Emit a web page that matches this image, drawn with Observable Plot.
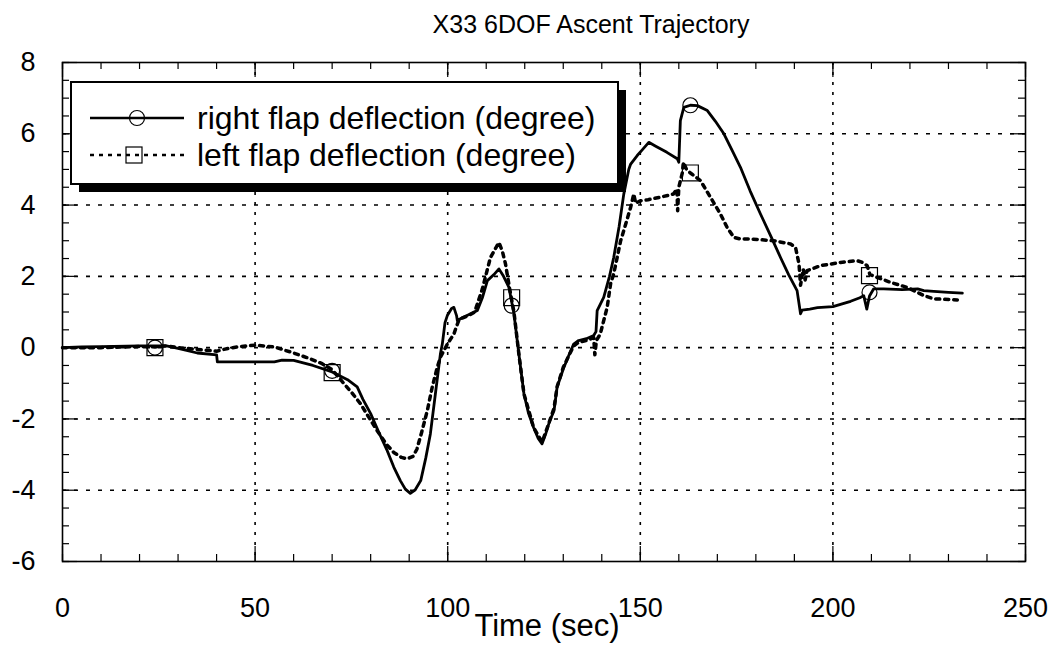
<!DOCTYPE html>
<html>
<head>
<meta charset="utf-8">
<script src="https://cdn.jsdelivr.net/npm/d3@7"></script>
<script src="https://cdn.jsdelivr.net/npm/@observablehq/plot@0.6"></script>
<style>
  html, body { margin: 0; padding: 0; background: #fff; }
  #wrap { position: relative; width: 1058px; height: 648px; overflow: hidden; font-family: "Liberation Sans", Arial, Helvetica, sans-serif; }
  #title { position: absolute; left: 0; top: 0; width: 1182px; height: 40px; text-align: center; line-height: 48px;
           font-family: "Liberation Sans", Arial, sans-serif; font-size: 25px; color: #000; white-space: nowrap; }
  #chart { position: absolute; left: 0; top: 40px; }
  #legend { position: absolute; left: 0; top: 0; }
</style>
</head>
<body>
<div id="wrap">
  <div id="chart"></div>
  <div id="title">X33 6DOF Ascent Trajectory</div>
  <svg id="legend" width="1058" height="648"></svg>
</div>
<script>
// ---- data (time in sec, deflection in degree) ----
const rightTime = [0,5,10,20,24,27,30,35,40,40.2,45,50,55,57,60,65,70,74,76.5,78,80,82,84.3,86,87.7,89,90.3,91.5,93,94.3,95.5,96.8,98.1,98.6,99.3,99.9,101,101.6,102.3,102.5,104,106,107.7,109,110.3,112,113.3,114.5,115.9,117.2,118.5,119.8,121,122.3,123.5,124.5,125.5,126.5,127.6,128.4,130,131.5,132.7,134,136,137.9,138.5,138.8,140.5,142,143.1,144.5,145.7,147,147.5,149.2,150.5,152.2,154,156.9,159.6,160,160.4,161.3,163,164.8,167.4,169.5,171.7,174,176,178.5,181.2,184,186.4,188.5,190.7,191.6,192,194,196,200,204.6,207,208,208.8,209.5,210.6,213.2,218,222,223.6,226.2,230,233.6];
const rightDefl = [0,0.02,0.03,0.05,0.05,0.05,-0.02,-0.15,-0.2,-0.4,-0.4,-0.4,-0.4,-0.35,-0.36,-0.5,-0.68,-0.9,-1.1,-1.45,-1.85,-2.35,-2.89,-3.35,-3.73,-3.97,-4.09,-4.0,-3.73,-3.1,-2.42,-1.3,-0.18,0.1,0.7,0.9,1.1,1.13,0.9,0.76,0.85,0.95,1.04,1.4,1.88,2.05,2.21,2.0,1.69,0.95,-0.2,-1.3,-1.85,-2.24,-2.55,-2.7,-2.4,-2.05,-1.77,-1.11,-0.6,-0.2,0.1,0.2,0.25,0.34,0.45,1.04,1.41,2.0,2.53,3.4,4.3,5.0,5.15,5.39,5.55,5.76,5.65,5.48,5.3,5.2,6.37,6.74,6.8,6.79,6.65,6.35,6.0,5.5,5.06,4.4,3.75,3.1,2.53,2.05,1.6,0.95,1.05,1.08,1.12,1.15,1.3,1.4,1.46,1.08,1.45,1.65,1.65,1.63,1.65,1.6,1.58,1.55,1.53];

const leftTime = [0,5,10,20,24,27,30,35,40,43,46,50,55,60,64,67.4,70,73,75,77.4,79.5,81.7,84,86,88,89.5,91,92,93.3,94.7,96,97.3,98.1,99.9,101.6,102.3,103,105,107,109,111.1,112.5,113.3,114.2,115,116,117.2,118.5,119.8,122.3,124.5,126,127.6,128.4,130,132.7,134,136,137.9,138.2,138.6,139.6,141.4,142.3,143.1,144.9,145.7,147.5,148.3,148.8,150,152,155.2,158.6,159.5,159.7,160,160.9,161.2,162,163,165.6,168.2,170.8,172.5,174.3,176,178.6,184.6,189,190.3,191.2,191.6,192.3,192.8,193.3,196.8,202,206.3,207.5,208.9,209.6,212,215,219.3,221,223.6,226.2,232.3];
const leftDefl = [0,0,0,0.03,0.02,0.05,0,-0.05,-0.1,-0.02,0.03,0.07,0.02,-0.15,-0.3,-0.45,-0.62,-1.0,-1.25,-1.58,-1.95,-2.33,-2.7,-2.94,-3.08,-3.12,-3.05,-2.85,-2.35,-1.77,-1.1,-0.55,-0.27,0.1,0.38,0.6,0.8,0.88,1.0,1.65,2.53,2.8,2.95,2.7,2.35,1.7,1.0,-0.2,-1.3,-2.24,-2.65,-2.2,-1.7,-1.1,-0.55,0.05,0.15,0.2,0.28,-0.2,0.2,0.38,1.13,1.8,2.07,3.0,3.28,3.94,4.31,4.05,4.12,4.15,4.22,4.31,4.45,3.84,4.5,4.9,5.2,5.0,4.9,4.69,4.22,3.75,3.38,3.09,3.05,3.05,3.0,2.91,2.81,2.35,1.75,2.2,1.9,2.16,2.3,2.39,2.44,2.4,2.3,2.05,1.95,1.83,1.69,1.6,1.46,1.37,1.34];

const markerTime = [24, 70, 116.6, 163, 209.5];
const rightMarkerDefl = [0, -0.65, 1.18, 6.8, 1.55];
const leftMarkerDefl = [0, -0.7, 1.4, 4.9, 2.02];

const xTicks = [0, 50, 100, 150, 200, 250];
const yTicks = [-6, -4, -2, 0, 2, 4, 6, 8];
const xMinor = d3.range(0, 251, 10);
const yMinor = d3.range(-6, 8.01, 0.5);

const seriesLabels = ["right flap deflection (degree)", "left flap deflection (degree)"];
const xLabel = "Time (sec)";

// ---- build tables ----
const right = rightTime.map((t, i) => ({t, v: rightDefl[i]}));
const left = leftTime.map((t, i) => ({t, v: leftDefl[i]}));
const rightMk = markerTime.map((t, i) => ({t, v: rightMarkerDefl[i]}));
const leftMk = markerTime.map((t, i) => ({t, v: leftMarkerDefl[i]}));

const W = 1058, H = 608, mT = 22, mB = 87, mL = 62, mR = 33;
const innerH = H - mT - mB, innerW = W - mL - mR;
const minorLen = 7, majorLen = 15;

const chart = Plot.plot({
  width: W, height: H,
  marginTop: mT, marginBottom: mB, marginLeft: mL, marginRight: mR,
  style: {fontFamily: '"Liberation Sans", Arial, sans-serif', background: "white", color: "black"},
  x: {domain: [0, 250]},
  y: {domain: [-6, 8]},
  marks: [
    Plot.gridX(xTicks.filter(d => d > 0 && d < 250), {stroke: "black", strokeOpacity: 1, strokeWidth: 1.6, strokeDasharray: "3,7"}),
    Plot.gridY(yTicks.filter(d => d > -6 && d < 8), {stroke: "black", strokeOpacity: 1, strokeWidth: 1.6, strokeDasharray: "4,8"}),
    // inward minor/major ticks
    Plot.tickX(xMinor, {x: d => d, stroke: "black", strokeWidth: 1.2, insetTop: innerH - minorLen}),
    Plot.tickX(xMinor, {x: d => d, stroke: "black", strokeWidth: 1.2, insetBottom: innerH - minorLen}),
    Plot.tickX(xTicks, {x: d => d, stroke: "black", strokeWidth: 1.2, insetTop: innerH - majorLen}),
    Plot.tickX(xTicks, {x: d => d, stroke: "black", strokeWidth: 1.2, insetBottom: innerH - majorLen}),
    Plot.tickY(yMinor, {y: d => d, stroke: "black", strokeWidth: 1.2, insetRight: innerW - minorLen}),
    Plot.tickY(yMinor, {y: d => d, stroke: "black", strokeWidth: 1.2, insetLeft: innerW - minorLen}),
    Plot.tickY(yTicks, {y: d => d, stroke: "black", strokeWidth: 1.2, insetRight: innerW - majorLen}),
    Plot.tickY(yTicks, {y: d => d, stroke: "black", strokeWidth: 1.2, insetLeft: innerW - majorLen}),
    Plot.frame({stroke: "black", strokeWidth: 1.6}),
    Plot.axisX({ticks: xTicks, tickSize: 0, tickPadding: 36, fontSize: 27, tickFormat: d => String(d), label: null}),
    Plot.axisY({ticks: yTicks, tickSize: 0, tickPadding: 27, fontSize: 27, tickFormat: d => String(d), label: null}),
    Plot.text([xLabel], {text: d => d, frameAnchor: "bottom", dy: 65, dx: 3, fontSize: 31, lineAnchor: "middle"}),
    // series
    Plot.line(left, {x: "t", y: "v", stroke: "black", strokeWidth: 3.5, strokeDasharray: "4,5"}),
    Plot.line(right, {x: "t", y: "v", stroke: "black", strokeWidth: 2.8}),
    Plot.dot(leftMk, {x: "t", y: "v", symbol: "square", r: 9, stroke: "black", strokeWidth: 1.2, fill: "none"}),
    Plot.dot(rightMk, {x: "t", y: "v", symbol: "circle", r: 7.5, stroke: "black", strokeWidth: 1.2, fill: "none"})
  ]
});
document.getElementById("chart").appendChild(chart);

// ---- legend (drawn over the plot area, top-left) ----
const lg = d3.select("#legend");
const bx = 71, by = 82, bw = 547, bh = 102, sh = 8;
lg.append("rect").attr("x", bx + sh).attr("y", by + sh).attr("width", bw).attr("height", bh).attr("fill", "black");
lg.append("rect").attr("x", bx).attr("y", by).attr("width", bw).attr("height", bh).attr("fill", "white").attr("stroke", "black").attr("stroke-width", 2);
const rows = [
  {y: 118, dash: null, sw: 2.6, sym: "circle"},
  {y: 155, dash: "4,5", sw: 2.6, sym: "square"}
];
rows.forEach((r, i) => {
  lg.append("line").attr("x1", 90).attr("x2", 184).attr("y1", r.y).attr("y2", r.y)
    .attr("stroke", "black").attr("stroke-width", r.sw).attr("stroke-dasharray", r.dash);
  if (r.sym === "circle") {
    lg.append("circle").attr("cx", 137).attr("cy", r.y).attr("r", 7.5).attr("fill", "none").attr("stroke", "black").attr("stroke-width", 1.2);
  } else {
    lg.append("rect").attr("x", 126).attr("y", r.y - 8).attr("width", 16).attr("height", 16).attr("fill", "none").attr("stroke", "black").attr("stroke-width", 1.2);
  }
  lg.append("text").attr("x", 197).attr("y", r.y).attr("dy", "0.35em")
    .attr("font-family", '"Liberation Sans", Arial, sans-serif').attr("font-size", 32)
    .text(seriesLabels[i]);
});
</script>
</body>
</html>
